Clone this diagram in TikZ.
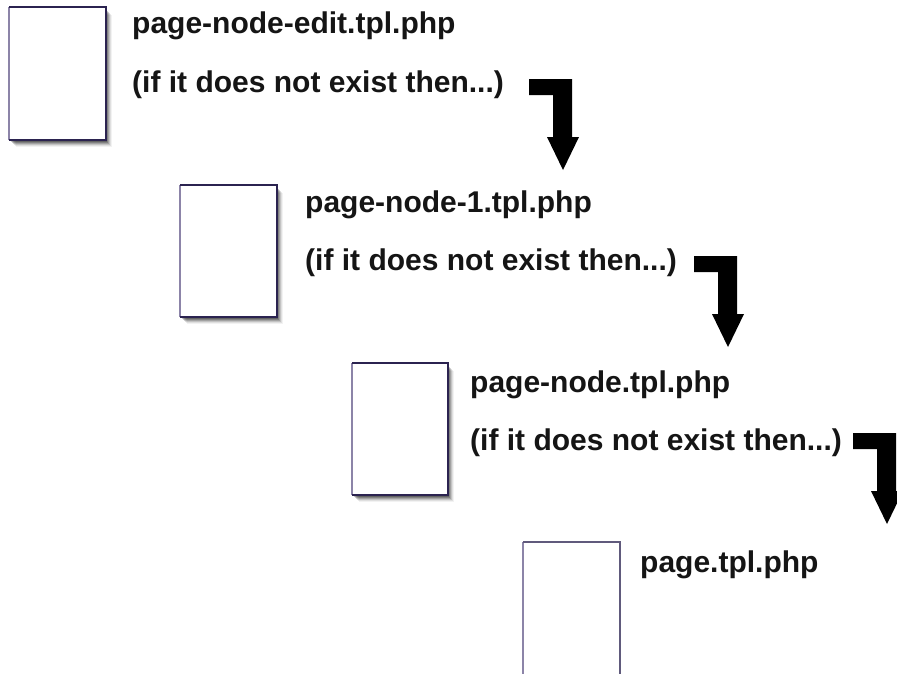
\documentclass[tikz,border=0pt]{standalone}
\usepackage{fontspec}
\setmainfont{Liberation Sans}
\definecolor{edgedark}{HTML}{2B2350}
\definecolor{edgelight}{HTML}{8C84A8}
\definecolor{inktext}{HTML}{151515}
\begin{document}
\begin{tikzpicture}[x=1pt,y=-1pt,
  pagebox/.style={anchor=north west, fill=white, inner sep=0pt, outer sep=0pt, minimum width=97pt, minimum height=133pt},
  fname/.style={anchor=base west, inner sep=0pt, text=inktext, font=\fontsize{30}{36}\selectfont\bfseries},
  bentarrow/.pic={\fill[black] (0,0) -- (43,0) -- (43,58) -- (50,58) -- (34,91) -- (18,58) -- (24,58) -- (24,16) -- (0,16) -- cycle;}
]
\useasboundingbox (0,0) rectangle (897,673);
\clip (0,0) rectangle (897,673);
\fill[white] (0,0) rectangle (897,673);

% shadows
\foreach \px/\py/\w/\h in {9/7/97/133, 180/185/97/132, 352/363/96/132}{
  \foreach \d/\op in {2/0.22, 3/0.2, 4/0.17, 5/0.12, 6/0.08, 7/0.05}{
    \fill[black, opacity=\op] (\px+\d, \py+\d+1) rectangle (\px+\w+\d-1, \py+\h+\d);
  }
}

% pages
\node[pagebox] (p1) at (9,7) {};
\node[pagebox, minimum height=132pt] (p2) at (180,185) {};
\node[pagebox, minimum width=96pt, minimum height=132pt] (p3) at (352,363) {};
\node[pagebox, minimum height=140pt] (p4) at (523,542) {};

\foreach \p in {p1,p2,p3}{
  \draw[edgelight, line width=2.4pt] (\p.south west) -- (\p.north west);
  \draw[edgedark, line width=2.2pt, line join=miter] (\p.north west) -- (\p.north east) -- (\p.south east) -- (\p.south west);
}
\draw[edgelight, line width=2.2pt] (p4.south west) -- (p4.north west);
\draw[edgedark!75!white, line width=2pt] (p4.north west) -- (p4.north east) -- (p4.south east);

% labels
\node[fname] (t1) at (132,33) {page-node-edit.tpl.php};
\node[fname] (c1) at (132,92) {(if it does not exist then...)};
\node[fname] (t2) at (305,212) {page-node-1.tpl.php};
\node[fname] (c2) at (305,270) {(if it does not exist then...)};
\node[fname] (t3) at (470,392) {page-node.tpl.php};
\node[fname] (c3) at (470,450) {(if it does not exist then...)};
\node[fname] (t4) at (640,572) {page.tpl.php};

% arrows
\pic at (529,79) {bentarrow};
\pic at (694,256) {bentarrow};
\pic at (853,433) {bentarrow};
\end{tikzpicture}
\end{document}
